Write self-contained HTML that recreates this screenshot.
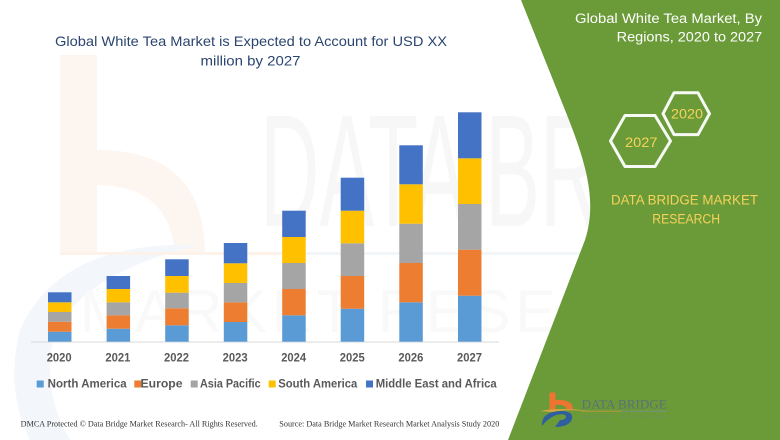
<!DOCTYPE html>
<html><head><meta charset="utf-8">
<style>
html,body{margin:0;padding:0;background:#fff;}
svg{display:block;}
</style></head>
<body>
<svg width="780" height="440" viewBox="0 0 780 440" xmlns="http://www.w3.org/2000/svg">
<rect width="780" height="440" fill="#ffffff"/>
<!-- faint watermark -->
<g>
<path d="M60,55 L97,55 L97,150 Q205,150 205,255 L175,255 Q170,185 97,185 L97,255 L60,255 Z" fill="#fdf5f0"/>
<path d="M20,330 Q60,240 200,245 Q90,270 55,330 Q40,390 70,440 L30,440 Q5,390 20,330 Z" fill="#f3f6fa"/>
<text x="260" y="226" font-family="Liberation Sans, sans-serif" font-size="160" fill="#f7f7f7" textLength="540" lengthAdjust="spacingAndGlyphs">DATA BRIDGE</text>
<rect x="60" y="252" width="230" height="3" fill="#fdf2ea"/>
<rect x="290" y="252" width="300" height="3" fill="#f3f6f9"/>
<text x="80" y="332" font-family="Liberation Sans, sans-serif" font-size="60" fill="#f9f9f9" textLength="520" lengthAdjust="spacing">MARKET RESEA</text>
</g>

<!-- left title -->
<g font-family="Liberation Sans, sans-serif" fill="#2b4570" font-size="14">
<text x="55" y="46" textLength="392" lengthAdjust="spacingAndGlyphs">Global White Tea Market is Expected to Account for USD XX</text>
<text x="200.5" y="65.5" textLength="100" lengthAdjust="spacingAndGlyphs">million by 2027</text>
</g>

<!-- axis -->
<rect x="31" y="341.5" width="468" height="1" fill="#d9d9d9"/>

<!-- bars -->
<g>
<rect x="48" y="331.7" width="23.5" height="10" fill="#5b9bd5"/>
<rect x="48" y="321.7" width="23.5" height="10" fill="#ed7d31"/>
<rect x="48" y="312" width="23.5" height="9.7" fill="#a5a5a5"/>
<rect x="48" y="302.3" width="23.5" height="9.7" fill="#ffc000"/>
<rect x="48" y="292.3" width="23.5" height="10" fill="#4472c4"/>
<rect x="106.6" y="328.7" width="23.5" height="13" fill="#5b9bd5"/>
<rect x="106.6" y="315.3" width="23.5" height="13.4" fill="#ed7d31"/>
<rect x="106.6" y="302.3" width="23.5" height="13" fill="#a5a5a5"/>
<rect x="106.6" y="289" width="23.5" height="13.3" fill="#ffc000"/>
<rect x="106.6" y="276" width="23.5" height="13" fill="#4472c4"/>
<rect x="165.2" y="325.3" width="23.5" height="16.4" fill="#5b9bd5"/>
<rect x="165.2" y="308.3" width="23.5" height="17" fill="#ed7d31"/>
<rect x="165.2" y="292.7" width="23.5" height="15.6" fill="#a5a5a5"/>
<rect x="165.2" y="276" width="23.5" height="16.7" fill="#ffc000"/>
<rect x="165.2" y="259.3" width="23.5" height="16.7" fill="#4472c4"/>
<rect x="223.8" y="322" width="23.5" height="19.7" fill="#5b9bd5"/>
<rect x="223.8" y="302.3" width="23.5" height="19.7" fill="#ed7d31"/>
<rect x="223.8" y="283" width="23.5" height="19.3" fill="#a5a5a5"/>
<rect x="223.8" y="263.3" width="23.5" height="19.7" fill="#ffc000"/>
<rect x="223.8" y="243" width="23.5" height="20.3" fill="#4472c4"/>
<rect x="282.2" y="315.3" width="23.5" height="26.4" fill="#5b9bd5"/>
<rect x="282.2" y="289" width="23.5" height="26.3" fill="#ed7d31"/>
<rect x="282.2" y="263" width="23.5" height="26" fill="#a5a5a5"/>
<rect x="282.2" y="237" width="23.5" height="26" fill="#ffc000"/>
<rect x="282.2" y="210.7" width="23.5" height="26.3" fill="#4472c4"/>
<rect x="340.7" y="308.7" width="23.5" height="33" fill="#5b9bd5"/>
<rect x="340.7" y="276" width="23.5" height="32.7" fill="#ed7d31"/>
<rect x="340.7" y="243.3" width="23.5" height="32.7" fill="#a5a5a5"/>
<rect x="340.7" y="210.7" width="23.5" height="32.6" fill="#ffc000"/>
<rect x="340.7" y="177.7" width="23.5" height="33" fill="#4472c4"/>
<rect x="399.3" y="302.3" width="23.5" height="39.4" fill="#5b9bd5"/>
<rect x="399.3" y="263" width="23.5" height="39.3" fill="#ed7d31"/>
<rect x="399.3" y="223.7" width="23.5" height="39.3" fill="#a5a5a5"/>
<rect x="399.3" y="184.3" width="23.5" height="39.4" fill="#ffc000"/>
<rect x="399.3" y="145.3" width="23.5" height="39" fill="#4472c4"/>
<rect x="458" y="295.7" width="23.5" height="46" fill="#5b9bd5"/>
<rect x="458" y="249.7" width="23.5" height="46" fill="#ed7d31"/>
<rect x="458" y="204" width="23.5" height="45.7" fill="#a5a5a5"/>
<rect x="458" y="158.3" width="23.5" height="45.7" fill="#ffc000"/>
<rect x="458" y="112.3" width="23.5" height="46" fill="#4472c4"/>
</g>

<!-- year labels -->
<g font-family="Liberation Sans, sans-serif" font-weight="bold" font-size="11.5" fill="#595959">
<text x="46.7" y="361.7" textLength="25" lengthAdjust="spacingAndGlyphs">2020</text>
<text x="105.4" y="361.7" textLength="25" lengthAdjust="spacingAndGlyphs">2021</text>
<text x="164" y="361.7" textLength="25" lengthAdjust="spacingAndGlyphs">2022</text>
<text x="222.6" y="361.7" textLength="25" lengthAdjust="spacingAndGlyphs">2023</text>
<text x="281.2" y="361.7" textLength="25" lengthAdjust="spacingAndGlyphs">2024</text>
<text x="339.8" y="361.7" textLength="25" lengthAdjust="spacingAndGlyphs">2025</text>
<text x="398.4" y="361.7" textLength="25" lengthAdjust="spacingAndGlyphs">2026</text>
<text x="457" y="361.7" textLength="25" lengthAdjust="spacingAndGlyphs">2027</text>
</g>

<!-- legend -->
<g font-family="Liberation Sans, sans-serif" font-weight="bold" font-size="11.5" fill="#595959">
<rect x="36.7" y="380.5" width="7" height="7" fill="#5b9bd5"/>
<text x="47.7" y="387.5" textLength="79" lengthAdjust="spacingAndGlyphs">North America</text>
<rect x="134.3" y="380.5" width="7" height="7" fill="#ed7d31"/>
<text x="140.5" y="387.5" textLength="42" lengthAdjust="spacingAndGlyphs">Europe</text>
<rect x="190.7" y="380.5" width="7" height="7" fill="#a5a5a5"/>
<text x="200" y="387.5" textLength="60.7" lengthAdjust="spacingAndGlyphs">Asia Pacific</text>
<rect x="268.7" y="380.5" width="7" height="7" fill="#ffc000"/>
<text x="278.3" y="387.5" textLength="79" lengthAdjust="spacingAndGlyphs">South America</text>
<rect x="366" y="380.5" width="7" height="7" fill="#4472c4"/>
<text x="375.7" y="387.5" textLength="121" lengthAdjust="spacingAndGlyphs">Middle East and Africa</text>
</g>

<!-- footer -->
<g font-family="Liberation Serif, serif" font-size="8" fill="#333">
<text x="20.7" y="426.5" textLength="237" lengthAdjust="spacingAndGlyphs">DMCA Protected © Data Bridge Market Research- All Rights Reserved.</text>
<text x="279.3" y="426.5" textLength="220" lengthAdjust="spacingAndGlyphs">Source: Data Bridge Market Research Market Analysis Study 2020</text>
</g>

<!-- green panel -->
<path d="M521,0 L565,110 C585,160 598,200 585,240 L508,440 L780,440 L780,0 Z" fill="#6b9b38"/>

<!-- right title -->
<g font-family="Liberation Sans, sans-serif" font-size="13.5" fill="#ffffff">
<text x="575" y="23" textLength="187" lengthAdjust="spacingAndGlyphs">Global White Tea Market, By</text>
<text x="616.7" y="41.5" textLength="145.5" lengthAdjust="spacingAndGlyphs">Regions, 2020 to 2027</text>
</g>

<!-- hexagons -->
<g fill="none" stroke="#ffffff" stroke-width="3" stroke-linejoin="round" opacity="0.95">
<polygon points="663,113.7 674,92.8 698,92.8 709.5,113.7 698,134.6 674,134.6"/>
<polygon points="610.5,141 625,115.5 655,115.5 670.5,141 655,166.5 625,166.5"/>
</g>
<g font-family="Liberation Sans, sans-serif" font-size="14" fill="#f5d35a">
<text x="671" y="118.5" textLength="32" lengthAdjust="spacingAndGlyphs">2020</text>
<text x="625" y="147" textLength="32.5" lengthAdjust="spacingAndGlyphs">2027</text>
</g>

<!-- DBMR text -->
<g font-family="Liberation Sans, sans-serif" font-size="13.5" fill="#f5d35a">
<text x="611" y="204.5" textLength="147" lengthAdjust="spacingAndGlyphs">DATA BRIDGE MARKET</text>
<text x="652.3" y="223.5" textLength="67.7" lengthAdjust="spacingAndGlyphs">RESEARCH</text>
</g>

<!-- bottom logo -->
<g>
<path d="M549.5,392.5 L555.5,392.5 L555.5,400 Q573,399 573,410 L567,410 Q566,404 555.5,405 L555.5,410 L549.5,410 Z" fill="#ed7431"/>
<path d="M540,411 Q560,407 590,411 Q565,409 552,412 Z" fill="#d9a441"/>
<path d="M542,426 Q541,412 560,411 Q574,411 572,419 Q569,427 555,427 L560,420 Q566,420 566,416 Q564,413 556,415 Q547,419 542,426 Z" fill="#2f5f9e"/>
<text x="581.7" y="408.3" font-family="Liberation Serif, serif" font-size="12.5" fill="#5e6f78" textLength="85" lengthAdjust="spacingAndGlyphs">DATA BRIDGE</text>
<rect x="581" y="410.8" width="40" height="0.8" fill="#c9953f"/>
<rect x="621" y="410.8" width="46" height="0.8" fill="#7d8d96"/>
<text x="582" y="418" font-family="Liberation Sans, sans-serif" font-size="4" fill="#6f7f88" textLength="84" lengthAdjust="spacing">MARKET RESEARCH</text>
</g>
</svg>
</body></html>
